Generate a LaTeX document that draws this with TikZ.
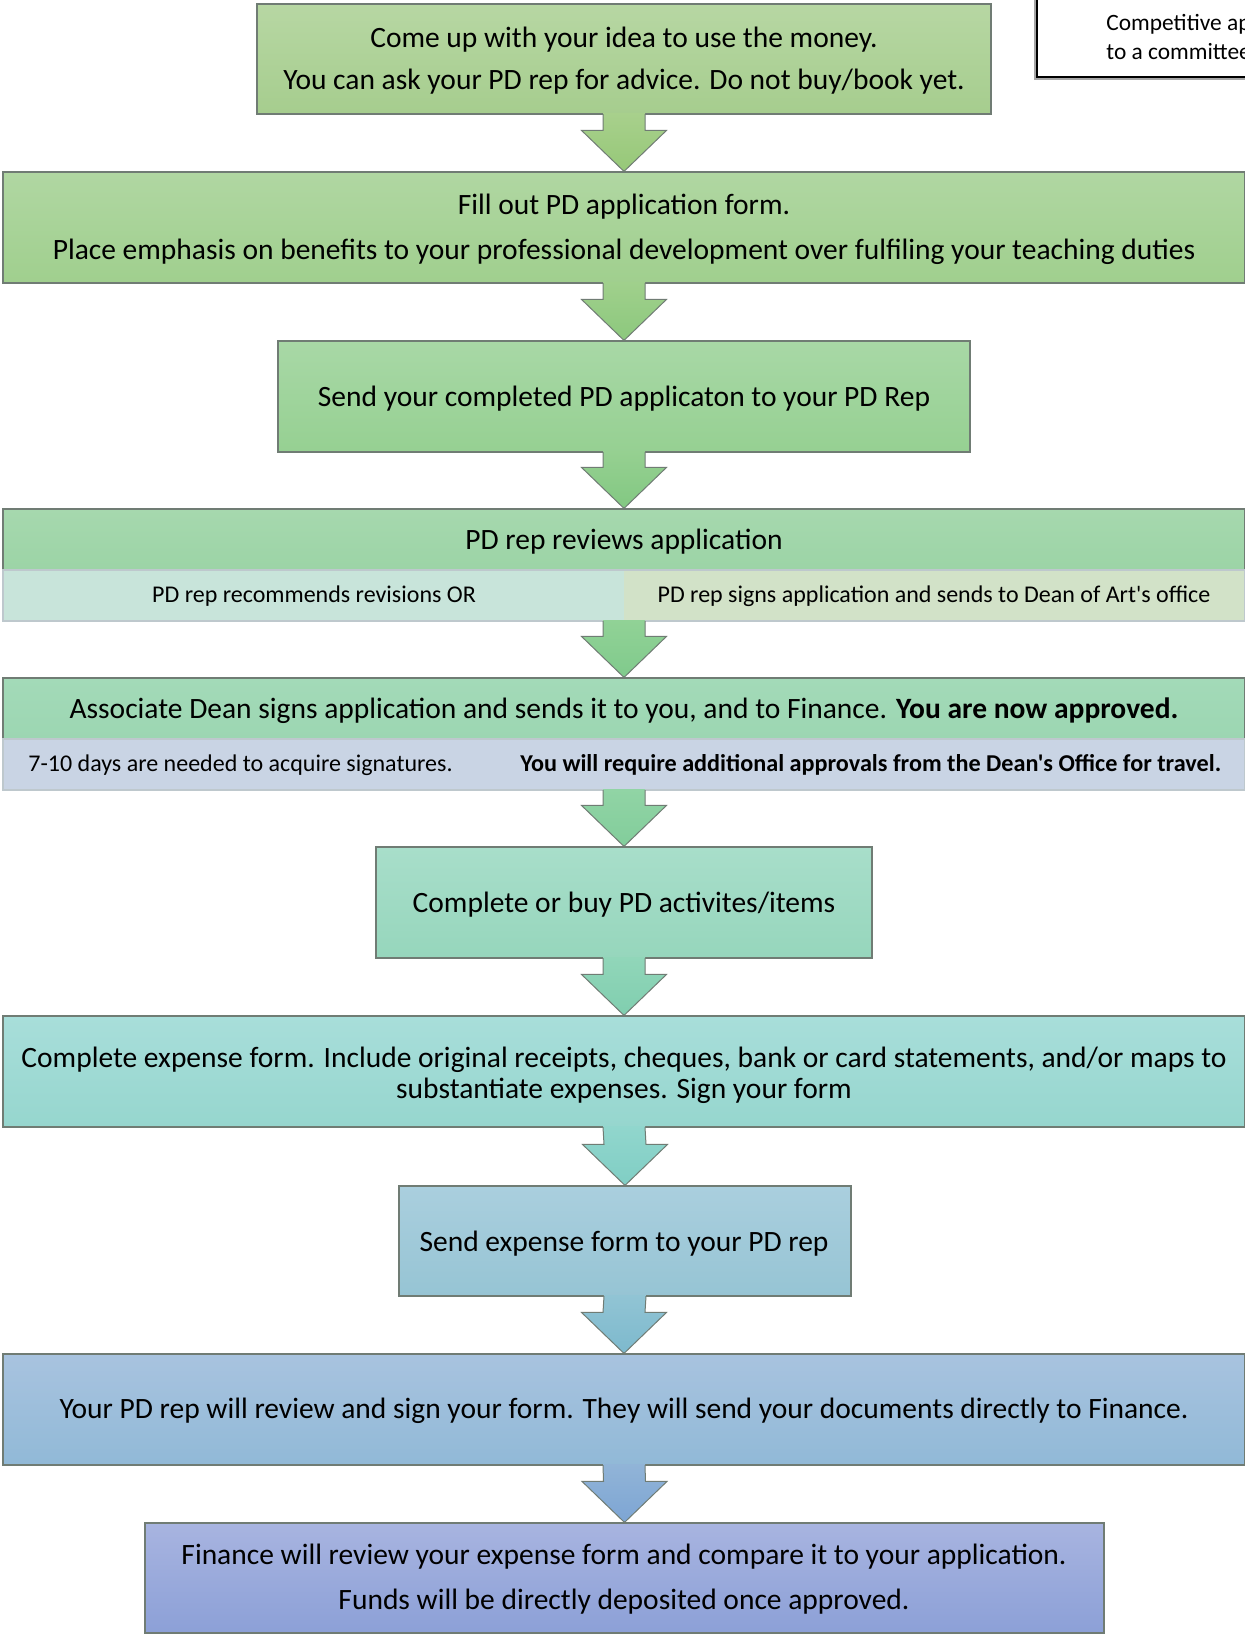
\documentclass[tikz,border=0pt]{standalone}
\usepackage{fontspec}
\setmainfont{Carlito}[Ligatures=TeXOff]
\usetikzlibrary{calc,fit,shadows}
\definecolor{bordc}{RGB}{112,124,116}
\definecolor{lightb}{RGB}{190,200,205}
\definecolor{c1t}{RGB}{183,215,163}\definecolor{c1b}{RGB}{166,205,142}
\definecolor{c2t}{RGB}{176,215,162}\definecolor{c2b}{RGB}{160,207,142}
\definecolor{c3t}{RGB}{168,216,166}\definecolor{c3b}{RGB}{150,208,146}
\definecolor{c4t}{RGB}{166,216,174}\definecolor{c4b}{RGB}{156,212,166}
\definecolor{c4l}{RGB}{200,228,218}\definecolor{c4r}{RGB}{210,226,200}
\definecolor{c5t}{RGB}{163,218,184}\definecolor{c5b}{RGB}{156,214,178}
\definecolor{c5s}{RGB}{201,212,228}
\definecolor{c6t}{RGB}{168,222,202}\definecolor{c6b}{RGB}{150,214,188}
\definecolor{c7t}{RGB}{168,222,218}\definecolor{c7b}{RGB}{150,214,206}
\definecolor{c8t}{RGB}{170,207,222}\definecolor{c8b}{RGB}{150,196,212}
\definecolor{c9t}{RGB}{168,195,223}\definecolor{c9b}{RGB}{145,185,215}
\definecolor{c10t}{RGB}{168,180,224}\definecolor{c10b}{RGB}{140,160,215}
\definecolor{a1t}{RGB}{168,208,140}\definecolor{a1b}{RGB}{150,200,120}
\definecolor{a2t}{RGB}{160,208,140}\definecolor{a2b}{RGB}{140,200,125}
\definecolor{a3t}{RGB}{150,208,145}\definecolor{a3b}{RGB}{130,200,130}
\definecolor{a4t}{RGB}{145,210,150}\definecolor{a4b}{RGB}{128,202,140}
\definecolor{a5t}{RGB}{145,212,165}\definecolor{a5b}{RGB}{130,205,155}
\definecolor{a6t}{RGB}{145,214,185}\definecolor{a6b}{RGB}{128,206,175}
\definecolor{a7t}{RGB}{145,214,205}\definecolor{a7b}{RGB}{128,206,196}
\definecolor{a8t}{RGB}{145,196,212}\definecolor{a8b}{RGB}{125,185,205}
\definecolor{a9t}{RGB}{145,180,215}\definecolor{a9b}{RGB}{125,165,212}
\newcommand\mainfs{\fontsize{14.75}{17.7}\selectfont}
\newcommand\smallfs{\fontsize{12}{14.4}\selectfont}
\newcommand\notefs{\fontsize{11.7}{14}\selectfont}
\newcommand\flowarrow[4]{%
  \path[top color=#3,bottom color=#4] ($(#1.south)+(-21,-1.5)$) -- ($(#1.south)+(21,-1.5)$) -- ($(#2.north)+(21,-41)$) -- ($(#2.north)+(42.5,-41)$) -- (#2.north) -- ($(#2.north)+(-42.5,-41)$) -- ($(#2.north)+(-21,-41)$) -- cycle;
  \draw[flow] ($(#1.south)+(21,-0.5)$) -- ($(#2.north)+(21,-41)$) -- ($(#2.north)+(42.5,-41)$) -- (#2.north) -- ($(#2.north)+(-42.5,-41)$) -- ($(#2.north)+(-21,-41)$) -- ($(#1.south)+(-21,-0.5)$);
}
\begin{document}
\begin{tikzpicture}[x=0.5pt,y=-0.5pt,
  box/.style={draw=bordc, line width=0.6pt, inner sep=0pt},
  cell/.style={draw=none, inner sep=0pt},
  txt/.style={inner sep=0pt, font=\mainfs},
  stxt/.style={inner sep=0pt, font=\smallfs},
  flow/.style={draw=bordc, line width=0.5pt}]
\useasboundingbox (0,0) rectangle (1245,1634);
\clip (0,0) rectangle (1245,1634);
\fill[white] (0,0) rectangle (1245,1634);

% note box at top right
\node[fit={(1037,-20) (1270,77)}, inner sep=0pt, draw=black, line width=0.8pt, fill=white,
  drop shadow={shadow xshift=-1.5pt, shadow yshift=-1.5pt, fill=black, opacity=0.35}] (note) {};
\node[anchor=base west, inner sep=0pt, font=\notefs] (n1) at (1106,30) {Competitive applications};
\node[anchor=base west, inner sep=0pt, font=\notefs] (n2) at (1106,59) {to a committee};

% boxes
\node[box, top color=c1t, bottom color=c1b, fit={(257,4) (991,114)}] (b1) {};
\node[txt] (t1a) at (624,40) {Come up with your idea to use the money.};
\node[txt] (t1b) at (624,82) {You can ask your PD rep for advice. Do not buy/book yet.};

\node[box, top color=c2t, bottom color=c2b, fit={(3,172) (1245,283)}] (b2) {};
\node[txt] (t2a) at (624,207) {Fill out PD application form.};
\node[txt] (t2b) at (624,252) {Place emphasis on benefits to your professional development over fulfiling your teaching duties};

\node[box, top color=c3t, bottom color=c3b, fit={(278,341) (970,452)}] (b3) {};
\node[txt] (t3) at (624,399) {Send your completed PD applicaton to your PD Rep};

\node[box, top color=c4t, bottom color=c4b, fit={(3,509) (1245,570)}] (b4) {};
\node[cell, fill=c4l, fit={(3,570) (624,621)}] (b4l) {};
\node[cell, fill=c4r, fit={(624,570) (1245,621)}] (b4r) {};
\node[draw=lightb, line width=0.6pt, inner sep=0pt, fit={(3,570) (1245,621)}] (b4s) {};
\node[txt] (t4) at (624,542) {PD rep reviews application};
\node[stxt] (t4l) at (314,596) {PD rep recommends revisions OR};
\node[stxt] (t4r) at (934,596) {PD rep signs application and sends to Dean of Art's office};

\node[box, top color=c5t, bottom color=c5b, fit={(3,678) (1245,739)}] (b5) {};
\node[cell, fill=c5s, fit={(3,739) (1245,790)}] (b5c) {};
\node[draw=lightb, line width=0.6pt, inner sep=0pt, fit={(3,739) (1245,790)}] (b5s) {};
\node[txt] (t5) at (624,711) {Associate Dean signs application and sends it to you, and to Finance. \textbf{You are now approved.}};
\node[stxt, anchor=west] (t5l) at (28,765) {7-10 days are needed to acquire signatures.};
\node[stxt, anchor=west] (t5r) at (520,765) {\fontsize{12.1}{14.4}\selectfont\textbf{You will require additional approvals from the Dean's Office for travel.}};

\node[box, top color=c6t, bottom color=c6b, fit={(376,847) (872,958)}] (b6) {};
\node[txt] (t6) at (624,905) {Complete or buy PD activites/items};

\node[box, top color=c7t, bottom color=c7b, fit={(3,1016) (1245,1127)}] (b7) {};
\node[txt] (t7a) at (624,1060) {Complete expense form. Include original receipts, cheques, bank or card statements, and/or maps to};
\node[txt] (t7b) at (624,1091) {substantiate expenses. Sign your form};

\node[box, top color=c8t, bottom color=c8b, fit={(399,1186) (851,1296)}] (b8) {};
\node[txt] (t8) at (624,1244) {Send expense form to your PD rep};

\node[box, top color=c9t, bottom color=c9b, fit={(3,1354) (1245,1465)}] (b9) {};
\node[txt] (t9) at (624,1411) {Your PD rep will review and sign your form. They will send your documents directly to Finance.};

\node[box, top color=c10t, bottom color=c10b, fit={(145,1523) (1104,1633)}] (b10) {};
\node[txt] (t10a) at (624,1557) {Finance will review your expense form and compare it to your application.};
\node[txt] (t10b) at (624,1602) {Funds will be directly deposited once approved.};

% connectors
\flowarrow{b1}{b2}{a1t}{a1b}
\flowarrow{b2}{b3}{a2t}{a2b}
\flowarrow{b3}{b4}{a3t}{a3b}
\flowarrow{b4s}{b5}{a4t}{a4b}
\flowarrow{b5s}{b6}{a5t}{a5b}
\flowarrow{b6}{b7}{a6t}{a6b}
\flowarrow{b7}{b8}{a7t}{a7b}
\flowarrow{b8}{b9}{a8t}{a8b}
\flowarrow{b9}{b10}{a9t}{a9b}
\end{tikzpicture}
\end{document}
